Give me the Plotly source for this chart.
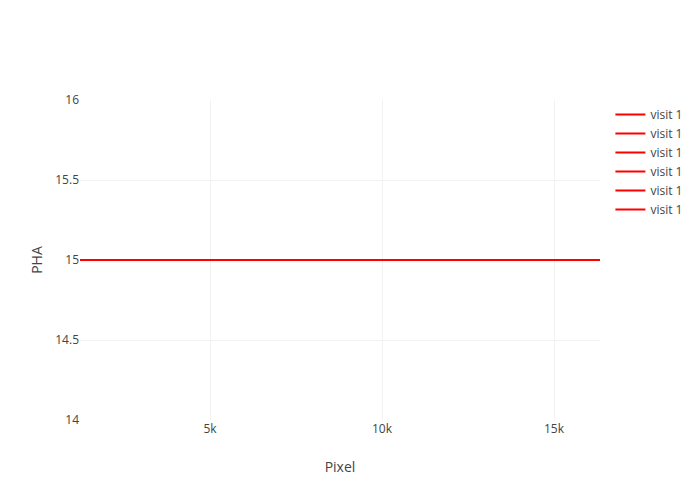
import plotly.graph_objects as go

names = ["visit 1", "visit 1", "visit 1", "visit 1", "visit 1", "visit 1"]
x_starts = [1221, 1221, 1221, 1221, 1221, 1221]
x_ends = [16337, 16337, 16337, 16337, 16337, 16337]
pha_values = [15, 15, 15, 15, 15, 15]

fig = go.Figure()
for name, x0, x1, v in zip(names, x_starts, x_ends, pha_values):
    fig.add_trace(go.Scatter(x=[x0, x1], y=[v, v], mode="lines", name=name,
                             line=dict(color="red", width=2)))

fig.update_layout(
    template="none",
    width=700, height=500,
    margin=dict(l=72, r=108, t=92, b=88, autoexpand=False),
    font=dict(family="Open Sans", color="#444"),
    xaxis=dict(title=dict(text="Pixel"), gridcolor="#f2f2f2", zeroline=False),
    yaxis=dict(title=dict(text="PHA"), gridcolor="#f2f2f2", zeroline=False),
    legend=dict(x=1.02, xanchor="left", y=1),
    plot_bgcolor="white", paper_bgcolor="white",
)
fig.write_html("out.html")
